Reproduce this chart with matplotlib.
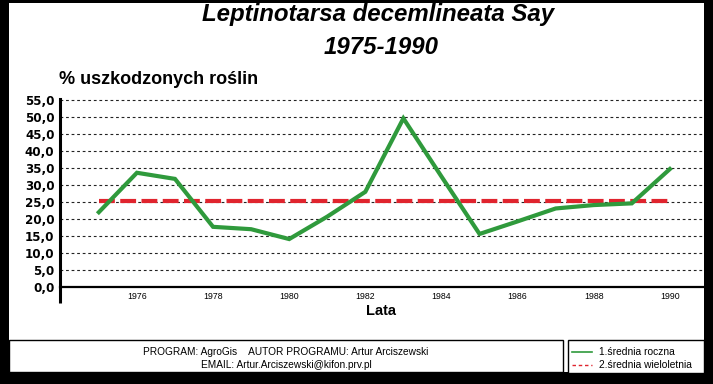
import matplotlib
matplotlib.use("Agg")
import matplotlib.pyplot as plt
from matplotlib.patches import Rectangle
from matplotlib.lines import Line2D
from matplotlib.ticker import FuncFormatter

# ---- data ----
years = [1975, 1976, 1977, 1978, 1979, 1980, 1981, 1982, 1983, 1984,
         1985, 1986, 1987, 1988, 1989, 1990]
annual_mean = [22.0, 33.6, 31.8, 17.7, 17.0, 14.1, 20.7, 28.0, 49.6, 32.5,
               15.6, 19.3, 23.1, 24.1, 24.6, 34.7]
longterm_mean = [25.4] * len(years)
xtick_years = [1976, 1978, 1980, 1982, 1984, 1986, 1988, 1990]
ytick_vals = [0, 5, 10, 15, 20, 25, 30, 35, 40, 45, 50, 55]

title1 = "Leptinotarsa decemlineata Say"
title2 = "1975-1990"
ylabel = "% uszkodzonych roślin"
xlabel = "Lata"
footer1 = "PROGRAM: AgroGis    AUTOR PROGRAMU: Artur Arciszewski"
footer2 = "EMAIL: Artur.Arciszewski@kifon.prv.pl"
legend_labels = ["1.średnia roczna", "2.średnia wieloletnia"]

GREEN = "#2f9a3c"
RED = "#e0242e"

W, H = 713, 384
fig = plt.figure(figsize=(W / 100, H / 100), dpi=100, facecolor="black")

# overlay in pixel coords for frame and footer
ov = fig.add_axes([0, 0, 1, 1], zorder=0)
ov.set_xlim(0, W)
ov.set_ylim(H, 0)
ov.axis("off")
ov.add_patch(Rectangle((9, 3), 695, 369, facecolor="white", edgecolor="none"))
ov.add_patch(Rectangle((9, 340), 554, 32, facecolor="white", edgecolor="black", lw=1))
ov.add_patch(Rectangle((568, 340), 136, 33, facecolor="white", edgecolor="black", lw=1))
ov.text(286, 352, footer1, ha="center", va="center", fontsize=7.3,
        family="Liberation Sans")
ov.text(286, 364.5, footer2, ha="center", va="center", fontsize=7.3,
        family="Liberation Sans")
ov.add_line(Line2D([572, 592], [352, 352], color=GREEN, lw=1.2))
ov.add_line(Line2D([572, 592], [364.5, 364.5], color=RED, lw=1.0,
                   dashes=(2.5, 2)))
ov.text(599, 352, legend_labels[0], ha="left", va="center", fontsize=7.4,
        family="Liberation Sans")
ov.text(599, 364.5, legend_labels[1], ha="left", va="center", fontsize=7.4,
        family="Liberation Sans")

# titles
fig.text(378 / W, 1 - 15 / H, title1, ha="center", va="center", fontsize=17.3,
         family="Liberation Sans", weight="bold", style="italic")
fig.text(381 / W, 1 - 48 / H, title2, ha="center", va="center", fontsize=17.3,
         family="Liberation Sans", weight="bold", style="italic")
fig.text(59 / W, 1 - 80 / H, ylabel, ha="left", va="center", fontsize=13,
         family="Liberation Sans", weight="bold")
fig.text(381 / W, 1 - 311 / H, xlabel, ha="center", va="center", fontsize=10.5,
         family="Liberation Sans", weight="bold")

# main axes
ax = fig.add_axes([60 / W, (H - 287) / H, 643 / W, 188 / H], zorder=1)
ax.set_facecolor("none")
ax.set_xlim(1973.98, 1990.87)
ax.set_ylim(0, 55.3)

ax.plot(years, longterm_mean, color=RED, lw=3.0, dashes=(3.8, 1.3),
        solid_capstyle="butt", dash_capstyle="butt", zorder=3)
ax.plot(years, annual_mean, color=GREEN, lw=3.0, solid_joinstyle="miter",
        zorder=4)

for v in ytick_vals[1:]:
    ax.axhline(v, color="#222222", lw=0.8, dashes=(2.5, 2.5), zorder=1)

for s in ["top", "right"]:
    ax.spines[s].set_visible(False)
ax.spines["left"].set_linewidth(2.2)
ax.spines["bottom"].set_linewidth(1.6)
ax.plot([0, 0], [0, -0.085], transform=ax.transAxes, color="black", lw=2.2,
        clip_on=False, solid_capstyle="butt")

ax.set_yticks(ytick_vals)
ax.yaxis.set_major_formatter(FuncFormatter(lambda v, p: f"{v:.1f}".replace(".", ",")))
ax.tick_params(axis="y", length=0, pad=4)
for lab in ax.get_yticklabels():
    lab.set_fontweight("bold")
    lab.set_fontsize(8.6)
    lab.set_family("DejaVu Sans")

ax.set_xticks(xtick_years)
ax.set_xticklabels([str(y) for y in xtick_years], fontsize=6.3,
                   family="Liberation Sans")
ax.tick_params(axis="x", length=0, pad=3.5)

fig.savefig("out.png", dpi=100, facecolor="black")
